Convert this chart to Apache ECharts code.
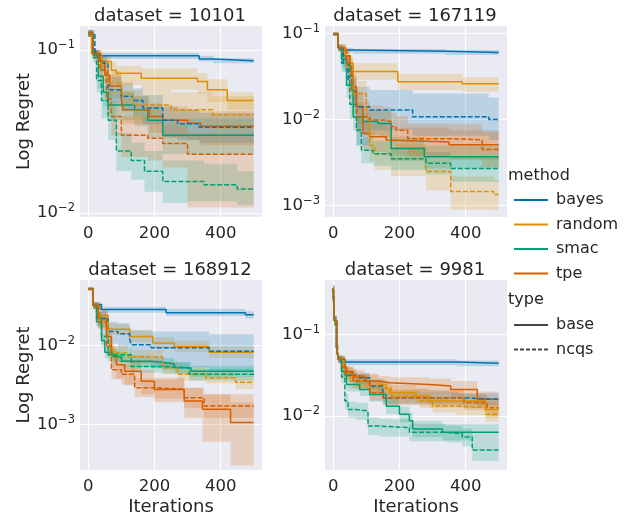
<!DOCTYPE html>
<html>
<head>
<meta charset="utf-8">
<script src="https://cdn.jsdelivr.net/npm/echarts@6/dist/echarts.min.js"></script>
<style>
html, body { margin: 0; padding: 0; background: #fff; }
#chart { width: 631px; height: 517px; }
</style>
</head>
<body>
<div id="chart"></div>
<script>
// facet / legend labels
var datasets = ['10101', '167119', '168912', '9981'];
var methods = ['bayes', 'random', 'smac', 'tpe'];
var types = ['base', 'ncqs'];
var xTicks = [0, 200, 400];
// y ticks as decade exponents (10^-1 ...)
var yTicks = [[-2, -1], [-3, -2, -1], [-3, -2], [-2, -1]];
// y limits, log10 of regret
var yRange = [[-2.025, -0.853], [-3.131, -0.915], [-3.58, -1.171], [-2.665, -0.327]];

// rows: [iteration, mean regret, ci low, ci high]
var d10101 = {
    bayes_base: [[0, .126, .120, .132], [12, .097, .092, .102], [25, .092, .088, .096], [335, .088, .085, .092], [378, .086, .083, .089], [500, .086, .083, .089]],
    random_base: [[0, .126, .12, .132], [10, .095, .09, .10], [40, .085, .076, .093], [70, .075, .064, .084], [85, .072, .061, .080], [160, .067, .057, .077], [330, .064, .054, .072], [360, .057, .048, .066], [420, .049, .043, .055], [500, .049, .043, .055]],
    smac_base: [[0, .126, .12, .132], [15, .093, .087, .10], [30, .069, .058, .08], [45, .055, .045, .066], [60, .046, .037, .056], [140, .043, .034, .052], [180, .037, .029, .045], [225, .030, .023, .038], [500, .030, .023, .038]],
    tpe_base: [[0, .126, .12, .132], [15, .095, .09, .10], [30, .085, .077, .093], [50, .070, .060, .080], [65, .060, .050, .071], [100, .049, .040, .059], [105, .043, .035, .052], [185, .039, .031, .047], [225, .037, .029, .045], [300, .0355, .028, .043], [340, .034, .026, .042], [500, .034, .026, .042]],
    bayes_ncqs: [[0, .126, .12, .132], [20, .095, .09, .10], [35, .083, .074, .092], [60, .057, .047, .068], [100, .052, .042, .062], [135, .049, .039, .058], [165, .044, .035, .053], [225, .037, .029, .045], [270, .0352, .028, .043], [335, .0336, .027, .041], [500, .0336, .027, .041]],
    random_ncqs: [[0, .126, .12, .132], [15, .095, .088, .10], [40, .075, .064, .086], [60, .063, .052, .074], [100, .054, .044, .064], [135, .046, .037, .057], [250, .043, .035, .055], [375, .040, .032, .052], [500, .040, .032, .052]],
    smac_ncqs: [[0, .126, .12, .132], [15, .09, .083, .097], [25, .065, .055, .076], [40, .049, .038, .06], [60, .037, .028, .047], [85, .024, .018, .031], [130, .021, .016, .027], [170, .018, .0135, .024], [225, .0156, .0115, .021], [300, .0156, .0118, .021], [350, .0149, .0118, .020], [450, .014, .0112, .018], [500, .014, .0112, .018]],
    tpe_ncqs: [[0, .126, .12, .132], [15, .095, .088, .10], [35, .075, .063, .087], [55, .050, .040, .061], [70, .039, .030, .049], [100, .030, .022, .039], [180, .0287, .021, .037], [225, .0267, .019, .035], [300, .0229, .0108, .031], [500, .0229, .0108, .031]]
};

var d167119 = {
    bayes_base: [[0, .098, .094, .102], [15, .068, .064, .072], [30, .064, .060, .068], [60, .062, .058, .066], [340, .060, .056, .064], [500, .060, .056, .064]],
    random_base: [[0, .098, .094, .102], [15, .068, .063, .073], [35, .055, .047, .063], [50, .045, .037, .054], [60, .036, .029, .045], [195, .0275, .022, .034], [390, .026, .021, .031], [500, .026, .021, .031]],
    smac_base: [[0, .098, .094, .102], [15, .068, .063, .073], [25, .050, .041, .059], [40, .025, .018, .033], [60, .0108, .0075, .015], [90, .0095, .0066, .013], [135, .009, .0062, .0125], [175, .0046, .0033, .0063], [275, .0037, .0027, .005], [500, .0037, .0027, .005]],
    tpe_base: [[0, .098, .094, .102], [15, .068, .063, .073], [30, .055, .046, .064], [50, .036, .027, .046], [60, .024, .016, .033], [70, .0141, .009, .021], [90, .0069, .0045, .010], [110, .0063, .0042, .0092], [160, .0058, .004, .0085], [165, .0055, .0038, .008], [350, .0051, .0034, .0075], [500, .0051, .0034, .0075]],
    bayes_ncqs: [[0, .098, .094, .102], [15, .068, .062, .074], [30, .045, .036, .055], [45, .029, .021, .038], [60, .021, .014, .030], [70, .0141, .005, .024], [110, .0129, .0075, .022], [240, .0108, .0065, .020], [470, .010, .0058, .018], [500, .010, .0058, .018]],
    random_ncqs: [[0, .098, .094, .102], [15, .068, .062, .074], [40, .040, .030, .051], [60, .020, .013, .028], [100, .010, .0065, .015], [110, .005, .0033, .0075], [125, .004, .0026, .006], [175, .0035, .0022, .0052], [280, .0025, .0015, .0037], [355, .00146, .0009, .0022], [485, .00135, .00088, .002], [500, .00135, .00088, .002]],
    smac_ncqs: [[0, .098, .094, .102], [15, .068, .062, .074], [25, .045, .036, .055], [50, .015, .010, .021], [70, .0075, .005, .011], [85, .0044, .0031, .0062], [120, .004, .0029, .0056], [175, .0035, .0026, .0048], [280, .0031, .0023, .0042], [355, .0027, .0019, .0037], [500, .0027, .0019, .0037]],
    tpe_ncqs: [[0, .098, .094, .102], [15, .068, .062, .074], [40, .045, .035, .056], [55, .022, .015, .031], [70, .0108, .007, .016], [110, .0099, .0065, .0145], [150, .0095, .006, .014], [175, .0083, .0052, .012], [190, .0075, .0047, .011], [225, .006, .0037, .009], [360, .0058, .0035, .0088], [450, .0045, .0028, .0072], [500, .0045, .0028, .0072]]
};

var d168912 = {
    bayes_base: [[0, .052, .050, .054], [15, .033, .031, .035], [40, .0285, .026, .031], [235, .026, .0235, .029], [475, .0244, .022, .027], [500, .0244, .022, .027]],
    random_base: [[0, .052, .050, .054], [15, .033, .030, .036], [30, .024, .020, .028], [60, .016, .0135, .019], [125, .013, .011, .0155], [195, .0107, .009, .0127], [260, .0097, .0082, .0115], [365, .0082, .0069, .0097], [500, .0082, .0069, .0097]],
    smac_base: [[0, .052, .050, .054], [15, .032, .029, .035], [25, .020, .017, .024], [40, .0115, .0095, .014], [50, .0082, .0068, .0098], [75, .0072, .006, .0086], [100, .0063, .0053, .0075], [190, .0061, .0051, .0072], [225, .0058, .0049, .0069], [260, .0052, .0044, .0061], [310, .0047, .004, .0055], [500, .0047, .004, .0055]],
    tpe_base: [[0, .052, .050, .054], [15, .032, .029, .035], [30, .022, .017, .027], [55, .013, .0095, .017], [70, .0075, .0052, .010], [85, .0057, .0038, .0079], [110, .0047, .0031, .0065], [160, .0035, .0024, .0049], [200, .00276, .0019, .0039], [290, .00197, .0012, .0029], [345, .00155, .0006, .0024], [430, .00105, .0003, .0019], [500, .00105, .0003, .0019]],
    bayes_ncqs: [[0, .052, .050, .054], [15, .032, .029, .035], [35, .022, .017, .027], [60, .015, .0105, .02], [90, .014, .009, .019], [125, .0118, .0072, .017], [130, .0102, .006, .0155], [190, .0093, .0052, .015], [365, .0084, .0046, .0138], [500, .0084, .0046, .0138]],
    random_ncqs: [[0, .052, .050, .054], [15, .032, .029, .035], [35, .020, .016, .024], [60, .0095, .0075, .012], [75, .008, .0064, .0098], [120, .0071, .0058, .0087], [225, .0052, .0043, .0063], [270, .0043, .0036, .0052], [355, .0039, .0033, .0047], [445, .0034, .0028, .0041], [500, .0034, .0028, .0041]],
    smac_ncqs: [[0, .052, .050, .054], [15, .032, .029, .035], [25, .022, .018, .026], [40, .013, .0105, .016], [60, .0076, .0063, .0091], [130, .0054, .0045, .0064], [225, .0052, .0044, .0061], [305, .0043, .0036, .0051], [500, .0042, .0035, .005]],
    tpe_ncqs: [[0, .052, .050, .054], [15, .032, .029, .035], [30, .020, .016, .025], [55, .010, .0075, .013], [70, .0049, .0037, .0063], [100, .0043, .0032, .0056], [140, .0029, .0022, .0038], [200, .0028, .0021, .0037], [290, .00217, .0016, .0029], [350, .0017, .0012, .0024], [500, .0017, .0012, .0024]]
};

var d9981 = {
    bayes_base: [[0, .37, .34, .40], [3, .15, .13, .17], [10, .07, .065, .075], [15, .05, .046, .054], [35, .046, .042, .050], [375, .0445, .041, .048], [500, .0445, .041, .048]],
    random_base: [[0, .37, .34, .40], [3, .15, .13, .17], [10, .07, .064, .076], [15, .05, .045, .055], [30, .035, .030, .041], [50, .0268, .022, .032], [135, .0244, .020, .029], [160, .0212, .0175, .026], [170, .0193, .016, .024], [250, .0176, .0145, .022], [290, .0153, .0125, .019], [460, .012, .0095, .015], [500, .012, .0095, .015]],
    smac_base: [[0, .37, .34, .40], [3, .15, .13, .17], [10, .07, .064, .076], [15, .05, .045, .055], [25, .035, .030, .041], [40, .0244, .020, .029], [80, .0212, .0175, .026], [110, .0184, .015, .022], [160, .0132, .0105, .0165], [200, .0105, .0083, .013], [230, .0087, .0069, .011], [240, .0069, .0055, .0087], [330, .0063, .005, .0079], [500, .0063, .005, .0079]],
    tpe_base: [[0, .37, .34, .40], [3, .15, .13, .17], [10, .07, .064, .076], [15, .05, .045, .055], [25, .04, .035, .046], [40, .035, .030, .041], [60, .031, .026, .037], [95, .0268, .022, .033], [140, .0256, .021, .031], [170, .0244, .020, .030], [290, .0233, .019, .029], [355, .0212, .017, .027], [435, .016, .013, .02], [500, .016, .013, .02]],
    bayes_ncqs: [[0, .37, .34, .40], [3, .15, .13, .17], [10, .07, .064, .076], [15, .05, .045, .055], [35, .032, .028, .037], [70, .0295, .025, .034], [110, .0233, .019, .028], [150, .0168, .014, .020], [380, .016, .0135, .019], [500, .016, .0135, .019]],
    random_ncqs: [[0, .37, .34, .40], [3, .15, .13, .17], [10, .07, .064, .076], [15, .05, .045, .055], [35, .033, .028, .039], [70, .025, .021, .030], [110, .0222, .018, .027], [175, .0176, .0145, .021], [260, .0153, .0125, .019], [300, .0133, .011, .0165], [370, .0126, .0103, .0155], [460, .0105, .0085, .013], [500, .0105, .0085, .013]],
    smac_ncqs: [[0, .37, .34, .40], [3, .15, .13, .17], [10, .07, .064, .076], [15, .05, .045, .055], [25, .03, .025, .036], [35, .0153, .012, .019], [45, .012, .0095, .015], [70, .0115, .009, .0145], [105, .0075, .0058, .0095], [140, .0072, .0056, .0092], [230, .0063, .0049, .008], [340, .006, .0047, .0076], [390, .0055, .0042, .007], [420, .0038, .0028, .005], [500, .0038, .0028, .005]],
    tpe_ncqs: [[0, .37, .34, .40], [3, .15, .13, .17], [10, .07, .064, .076], [15, .05, .045, .055], [35, .034, .029, .040], [60, .027, .022, .033], [110, .0193, .0155, .024], [150, .0168, .0135, .021], [395, .0146, .0118, .018], [465, .0126, .010, .016], [500, .0126, .010, .016]]
};

var panels = [d10101, d167119, d168912, d9981];

var colors = { bayes: '#0173b2', random: '#de8f05', smac: '#029e73', tpe: '#d55e00' };
var textColor = '#262626';
var font = 'DejaVu Sans';

// grid boxes: 2 x 2 facets
var gridPos = [
    { left: 80, top: 26 }, { left: 325, top: 26 },
    { left: 80, top: 280 }, { left: 325, top: 280 }
];

function lg(v) { return Math.log10(v); }

// step shaped confidence band, drawn as one polygon through api.coord
function bandRenderer(rows, color) {
    return function (params, api) {
        if (params.dataIndex !== 0) return null;
        var pts = [], i, n = rows.length;
        for (i = 0; i < n; i++) {
            var xn = i < n - 1 ? rows[i + 1][0] : rows[i][0];
            pts.push(api.coord([rows[i][0], lg(rows[i][3])]));
            pts.push(api.coord([xn, lg(rows[i][3])]));
        }
        for (i = n - 1; i >= 0; i--) {
            var xe = i < n - 1 ? rows[i + 1][0] : rows[i][0];
            pts.push(api.coord([xe, lg(rows[i][2])]));
            pts.push(api.coord([rows[i][0], lg(rows[i][2])]));
        }
        return { type: 'polygon', shape: { points: pts }, style: { fill: color, opacity: 0.2 } };
    };
}

var grids = [], xAxes = [], yAxes = [], titles = [], series = [];

panels.forEach(function (panel, gi) {
    grids.push({
        left: gridPos[gi].left, top: gridPos[gi].top, width: 182, height: 191,
        show: true, backgroundColor: '#eaeaf2', borderWidth: 0
    });
    titles.push({
        text: 'dataset = ' + datasets[gi], padding: 0,
        left: gridPos[gi].left + 90, top: gridPos[gi].top - 19, textAlign: 'center',
        textStyle: { fontSize: 18, fontWeight: 'normal', color: textColor, fontFamily: font }
    });
    xAxes.push({
        gridIndex: gi, type: 'value', min: -25, max: 525,
        axisLine: { show: false },
        axisTick: { show: false, customValues: xTicks },
        axisLabel: { customValues: xTicks, fontSize: 16.5, color: textColor, margin: 8, fontFamily: font },
        splitLine: { show: true, lineStyle: { color: '#ffffff', width: 1.2 } },
        name: gi >= 2 ? 'Iterations' : '', nameLocation: 'middle', nameGap: 28,
        nameTextStyle: { fontSize: 18, color: textColor, fontFamily: font }
    });
    yAxes.push({
        gridIndex: gi, type: 'value', min: yRange[gi][0], max: yRange[gi][1],
        axisLine: { show: false },
        axisTick: { show: false, customValues: yTicks[gi] },
        axisLabel: {
            customValues: yTicks[gi], margin: 5,
            formatter: function (v) { return '{b|10}{s|\u2212' + Math.round(-v) + '}'; },
            rich: {
                b: { fontSize: 16.5, color: textColor, fontFamily: font },
                s: { fontSize: 11.5, color: textColor, fontFamily: font, padding: [0, 0, 9, 0] }
            }
        },
        splitLine: { show: true, lineStyle: { color: '#ffffff', width: 1.2 } },
        name: gi % 2 === 0 ? 'Log Regret' : '', nameLocation: 'middle', nameGap: 43,
        nameTextStyle: { fontSize: 18, color: textColor, fontFamily: font }
    });

    // confidence bands
    types.forEach(function (t) {
        methods.forEach(function (m) {
            var rows = panel[m + '_' + t];
            series.push({
                type: 'custom', xAxisIndex: gi, yAxisIndex: gi, silent: true, z: 1, clip: true,
                renderItem: bandRenderer(rows, colors[m]),
                encode: { x: 0, y: [1, 2] },
                data: rows.map(function (r) { return [r[0], lg(r[2]), lg(r[3])]; })
            });
        });
    });
    // mean lines
    types.forEach(function (t) {
        methods.forEach(function (m) {
            var rows = panel[m + '_' + t];
            series.push({
                name: datasets[gi] + ' ' + m + ' ' + t,
                type: 'line', xAxisIndex: gi, yAxisIndex: gi, step: 'end',
                symbol: 'none', z: 3,
                lineStyle: { color: colors[m], width: 1.5, type: t === 'ncqs' ? [5, 2] : 'solid' },
                data: rows.map(function (r) { return [r[0], lg(r[1])]; })
            });
        });
    });
});

// empty series used only for the legend entries
methods.forEach(function (m) {
    series.push({ name: m, type: 'line', data: [], symbol: 'none', color: colors[m], lineStyle: { width: 1.5 } });
});
series.push({ name: 'base', type: 'line', data: [], symbol: 'none', color: '#444', lineStyle: { width: 1.2 } });
series.push({ name: 'ncqs', type: 'line', data: [], symbol: 'none', color: '#444', lineStyle: { width: 1.2, type: [4, 2] } });

var legendCommon = {
    orient: 'vertical', left: 508, itemWidth: 34, itemHeight: 14, itemGap: 8.5,
    selectedMode: false,
    itemStyle: { opacity: 0 },
    textStyle: { fontSize: 16, color: textColor, fontFamily: font, padding: [0, 0, 0, 3] }
};

var option = {
    animation: false,
    textStyle: { fontFamily: font },
    title: titles,
    grid: grids,
    xAxis: xAxes,
    yAxis: yAxes,
    legend: [
        Object.assign({}, legendCommon, { top: 187, data: methods }),
        Object.assign({}, legendCommon, { top: 312, data: types })
    ],
    graphic: [
        { type: 'text', left: 508, top: 168, style: { text: 'method', fontSize: 16, fill: textColor, fontFamily: font } },
        { type: 'text', left: 508, top: 292, style: { text: 'type', fontSize: 16, fill: textColor, fontFamily: font } }
    ],
    series: series
};

var chart = echarts.init(document.getElementById('chart'));
chart.setOption(option);
</script>
</body>
</html>
